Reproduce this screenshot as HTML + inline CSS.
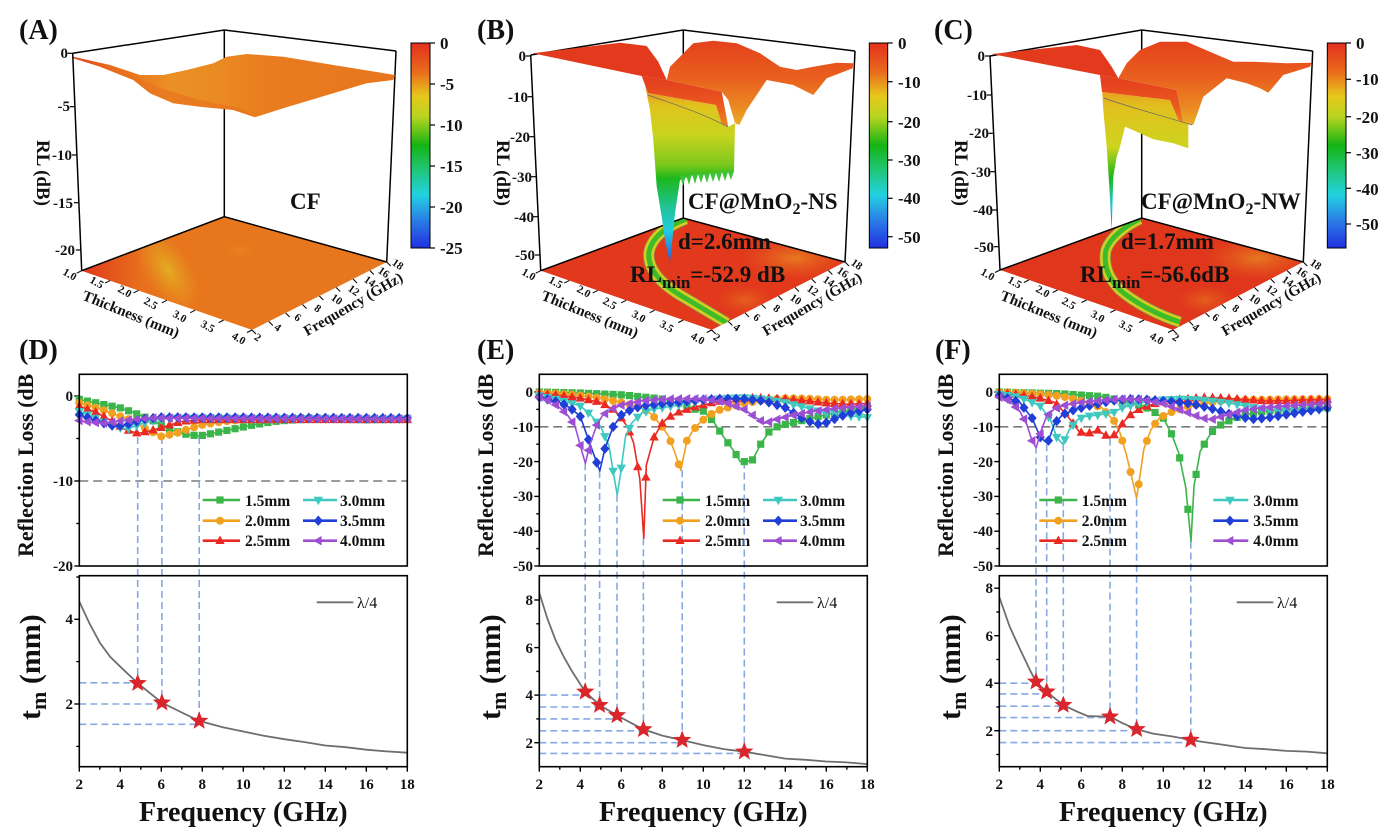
<!DOCTYPE html>
<html><head><meta charset="utf-8">
<style>
html,body{margin:0;padding:0;background:#fff;width:1381px;height:829px;overflow:hidden;}
svg{display:block;}
text{font-family:"Liberation Serif","Times New Roman",serif;font-weight:bold;fill:#111;}
</style></head><body>
<svg id="s" width="1381" height="829" viewBox="0 0 1381 829" xmlns="http://www.w3.org/2000/svg">
<defs>
 <linearGradient id="cbar" x1="0" y1="0" x2="0" y2="1">
  <stop offset="0" stop-color="#e3301e"/>
  <stop offset="0.14" stop-color="#ea6a1c"/>
  <stop offset="0.26" stop-color="#e6c81c"/>
  <stop offset="0.36" stop-color="#b8d420"/>
  <stop offset="0.5" stop-color="#14b414"/>
  <stop offset="0.62" stop-color="#20c678"/>
  <stop offset="0.74" stop-color="#22d2e0"/>
  <stop offset="0.87" stop-color="#2a7ae6"/>
  <stop offset="1" stop-color="#2030e0"/>
 </linearGradient>
 <linearGradient id="surfA" gradientUnits="userSpaceOnUse" x1="73" y1="0" x2="395" y2="0">
  <stop offset="0" stop-color="#e2401c"/><stop offset="0.1" stop-color="#e8661e"/>
  <stop offset="0.3" stop-color="#eb9024"/><stop offset="0.45" stop-color="#ea8a22"/>
  <stop offset="0.6" stop-color="#e97c1f"/><stop offset="1" stop-color="#e8761e"/>
 </linearGradient>
 <linearGradient id="floorA" gradientUnits="userSpaceOnUse" x1="82" y1="0" x2="200" y2="0">
  <stop offset="0" stop-color="#e0381c"/><stop offset="0.5" stop-color="#e8701d"/>
  <stop offset="1" stop-color="#e8761c"/>
 </linearGradient>
 <radialGradient id="yel" cx="0.5" cy="0.5" r="0.5">
  <stop offset="0" stop-color="#e2b020" stop-opacity="0.95"/>
  <stop offset="0.6" stop-color="#e59a20" stop-opacity="0.5"/>
  <stop offset="1" stop-color="#e8901e" stop-opacity="0"/>
 </radialGradient>
 <radialGradient id="org" cx="0.5" cy="0.5" r="0.5">
  <stop offset="0" stop-color="#e8921f" stop-opacity="0.9"/>
  <stop offset="1" stop-color="#e66a1e" stop-opacity="0"/>
 </radialGradient>
 <linearGradient id="wallB" gradientUnits="userSpaceOnUse" x1="0" y1="92" x2="0" y2="265">
  <stop offset="0" stop-color="#e89a22"/><stop offset="0.08" stop-color="#e0c41e"/>
  <stop offset="0.25" stop-color="#c8d41e"/><stop offset="0.42" stop-color="#7cc81c"/>
  <stop offset="0.5" stop-color="#1cb81c"/><stop offset="0.68" stop-color="#20c4a0"/>
  <stop offset="0.8" stop-color="#22cce0"/><stop offset="1" stop-color="#2050e0"/>
 </linearGradient>
 <linearGradient id="wallC" gradientUnits="userSpaceOnUse" x1="0" y1="92" x2="0" y2="230">
  <stop offset="0" stop-color="#e8a020"/><stop offset="0.1" stop-color="#e2c01e"/>
  <stop offset="0.4" stop-color="#cdd41e"/><stop offset="0.55" stop-color="#50c01c"/>
  <stop offset="0.62" stop-color="#1cb81c"/><stop offset="0.82" stop-color="#22c8d8"/>
  <stop offset="1" stop-color="#2060e0"/>
 </linearGradient>
 <linearGradient id="lip" gradientUnits="userSpaceOnUse" x1="0" y1="76" x2="0" y2="127">
  <stop offset="0" stop-color="#e33c1e"/><stop offset="0.6" stop-color="#ea5a1e"/><stop offset="1" stop-color="#ec8a22"/>
 </linearGradient>
 <linearGradient id="hump" gradientUnits="userSpaceOnUse" x1="0" y1="40" x2="0" y2="125">
  <stop offset="0" stop-color="#e4401c"/><stop offset="0.45" stop-color="#e9601e"/>
  <stop offset="0.8" stop-color="#eb8a22"/><stop offset="1" stop-color="#e8b024"/>
 </linearGradient>
 <clipPath id="clA"><polygon points="82,271 224,217 387,262 252,330"/></clipPath>
 <clipPath id="clB"><polygon points="540.7,270.7 683.3,218 845,262 711.7,330"/></clipPath>
 <clipPath id="clC"><polygon points="1000,270 1141.7,218 1303.3,262 1173,330"/></clipPath>
</defs>
<rect width="1381" height="829" fill="#fff"/>

<!-- ============ PANEL A ============ -->
<g clip-path="url(#clA)">
<polygon points="82,271 224,217 387,262 252,330" fill="url(#floorA)"/>
<ellipse cx="168" cy="270" rx="24" ry="48" transform="rotate(-31 168 270)" fill="url(#yel)"/>
<ellipse cx="240" cy="250" rx="30" ry="14" fill="url(#org)" opacity="0.5"/>
</g>
<g stroke="#000" stroke-width="1.5" fill="none">
 <polyline points="72.7,53.3 224.3,30 396,51"/>
 <line x1="224.3" y1="30" x2="224.3" y2="216.7"/>
 <line x1="396" y1="51" x2="386.7" y2="262"/>
 <polyline points="81.7,270.7 224.3,216.7 386.7,262"/>
</g>
<polygon fill="url(#surfA)" points="73.3,56.7 110,65 140,75 163.3,75 186.7,70 213.3,63.3 226.7,56.7 246.7,54 283.3,56.7 333.3,65 395,75 393.3,80 366.7,83.3 333.3,93.3 283.3,108.3 255,117.3 233.3,110 200,106.7 173.3,103.3 150,93.3 133.3,80 100,66.7 73.3,58.3"/>
<polygon fill="#e8701e" opacity="0.6" points="100,66.7 133.3,80 150,93.3 173.3,103.3 200,106.7 233.3,110 255,117.3 240,108 200,100 160,88 130,75"/>
<line x1="72.7" y1="53.3" x2="81.7" y2="270.7" stroke="#000" stroke-width="1.5"/>
<rect x="411" y="43" width="19" height="205" fill="url(#cbar)" stroke="#000" stroke-width="1"/>
<g font-size="17">
 <text x="440" y="49">0</text><text x="440" y="90">-5</text><text x="440" y="131">-10</text>
 <text x="440" y="172">-15</text><text x="440" y="213">-20</text><text x="440" y="254">-25</text>
</g>
<g font-size="15" text-anchor="end">
 <text x="68" y="58">0</text><text x="70" y="111">-5</text><text x="72" y="160">-10</text>
 <text x="73" y="208">-15</text><text x="75" y="255">-20</text>
</g>
<text x="19" y="39" font-size="28">(A)</text>
<text transform="translate(37,140) rotate(90)" font-size="19">RL (dB)</text>
<text x="290" y="209" font-size="23">CF</text>

<!-- ============ PANEL B ============ -->
<g clip-path="url(#clB)">
<polygon points="540.7,270.7 683.3,218 845,262 711.7,330" fill="#e2381c"/>
<ellipse cx="795" cy="258" rx="55" ry="22" fill="url(#org)" opacity="0.8"/>
<ellipse cx="745" cy="300" rx="30" ry="15" fill="url(#org)" opacity="0.5"/>
<path d="M686,219 C668,226 652,236 649,252 C647,268 660,284 685,298 C700,307 715,316 727,323" fill="none" stroke="#8a8a50" stroke-width="11.5"/>
<path d="M686,219 C668,226 652,236 649,252 C647,268 660,284 685,298 C700,307 715,316 727,323" fill="none" stroke="#d6cc22" stroke-width="10"/>
<path d="M686,219 C668,226 652,236 649,252 C647,268 660,284 685,298 C700,307 715,316 727,323" fill="none" stroke="#3cbc28" stroke-width="5"/>
</g>
<g stroke="#000" stroke-width="1.5" fill="none">
 <polyline points="530.7,55 683.3,30 855,51"/>
 <line x1="683.3" y1="30" x2="683.3" y2="218"/>
 <line x1="855" y1="51" x2="845" y2="262"/>
 <polyline points="540.7,270.7 683.3,218 845,262"/>
</g>
<polygon fill="#e33a1e" points="532.7,53.3 620,42.7 646.7,46 658.3,61.7 666.7,80 641.7,76"/>
<polygon fill="url(#wallB)" points="648,93 716,105 721.7,124 728.3,126.7 735,123.3 734,171.7 713.3,173.3 693.3,175 680,180 675,213.3 670,263.3 665,240 661.7,216.7 656.7,186.7 653.3,140 650,110 645,85"/>
<path fill="#3ec23a" d="M680,176 L683,186 L686,175 L689,185 L692,174 L695,184 L698,174 L701,183 L704,174 L707,183 L710,173 L713,182 L716,173 L719,182 L722,172 L725,181 L728,172 L731,180 L734,171 Z"/>
<polygon fill="url(#lip)" points="641.7,76 666.7,80 721.7,91.7 728.3,126.7 721.7,124 716,105 648,93"/>
<polygon fill="url(#hump)" points="666.7,80 670,66.7 680,56.7 693.3,43.3 713.3,40.7 736.7,43.3 760,53.3 780,66.7 796.7,70 813.3,66.7 836.7,62.7 853.3,63.3 852.7,68.3 826.7,78.3 813.3,95 806.7,91.7 793.3,85 766.7,80 746.7,110 739.3,125 735,123.3 728.3,100 721.7,91.7"/>
<path d="M648,95 C670,103 700,112 728,127" fill="none" stroke="#666" stroke-width="0.7"/>
<line x1="530.7" y1="55" x2="540.7" y2="270.7" stroke="#000" stroke-width="1.5"/>
<rect x="869.3" y="43" width="18.4" height="205" fill="url(#cbar)" stroke="#000" stroke-width="1"/>
<g font-size="17">
 <text x="898" y="49">0</text><text x="898" y="88">-10</text><text x="898" y="128">-20</text>
 <text x="898" y="166">-30</text><text x="898" y="204">-40</text><text x="898" y="243">-50</text>
</g>
<g font-size="15" text-anchor="end">
 <text x="526" y="61">0</text><text x="528" y="102">-10</text><text x="530" y="142">-20</text>
 <text x="532" y="182">-30</text><text x="534" y="222">-40</text><text x="535" y="260">-50</text>
</g>
<text x="477" y="39" font-size="28">(B)</text>
<text transform="translate(497,140) rotate(90)" font-size="19">RL (dB)</text>
<text x="688" y="209" font-size="23">CF@MnO<tspan font-size="16" dy="5">2</tspan><tspan dy="-5">-NS</tspan></text>
<text x="678" y="249" font-size="23">d=2.6mm</text>
<text x="630" y="282" font-size="23">RL<tspan font-size="17" dy="6">min</tspan><tspan dy="-6">=-52.9 dB</tspan></text>

<!-- ============ PANEL C ============ -->
<g clip-path="url(#clC)">
<polygon points="1000,270 1141.7,218 1303.3,262 1173,330" fill="#e0361c"/>
<ellipse cx="1258" cy="258" rx="55" ry="22" fill="url(#org)" opacity="0.8"/>
<ellipse cx="1205" cy="300" rx="30" ry="15" fill="url(#org)" opacity="0.5"/>
<path d="M1140,219 C1125,226 1110,238 1106,250 C1103,265 1108,278 1120,290 C1135,303 1160,316 1180,322" fill="none" stroke="#8a8a50" stroke-width="11.5"/>
<path d="M1140,219 C1125,226 1110,238 1106,250 C1103,265 1108,278 1120,290 C1135,303 1160,316 1180,322" fill="none" stroke="#d6cc22" stroke-width="10"/>
<path d="M1140,219 C1125,226 1110,238 1106,250 C1103,265 1108,278 1120,290 C1135,303 1160,316 1180,322" fill="none" stroke="#3cbc28" stroke-width="5"/>
</g>
<g stroke="#000" stroke-width="1.5" fill="none">
 <polyline points="990,56 1141.7,30 1312.7,51"/>
 <line x1="1141.7" y1="30" x2="1141.7" y2="218"/>
 <line x1="1312.7" y1="51" x2="1303.3" y2="262"/>
 <polyline points="1000,270 1141.7,218 1303.3,262"/>
</g>
<polygon fill="#e33a1e" points="991.7,54 1076.7,45 1100,50 1111.7,66.7 1118.3,78.3 1100,75"/>
<polygon fill="url(#wallC)" points="1102,92 1170,100 1178.3,120 1183.3,122.7 1188.3,124 1188.3,148.3 1173.3,143.3 1153.3,139.3 1136.7,131.7 1125,126.7 1120,146.7 1116.7,156.7 1113.3,176.7 1111.7,230 1109.3,186.7 1106.7,146.7 1103.3,110 1101.7,83.3"/>
<polygon fill="url(#lip)" points="1100,75 1118.3,78.3 1176.7,90 1183.3,122.7 1178.3,120 1170,100 1102,92"/>
<polygon fill="url(#hump)" points="1118.3,78.3 1126.7,63.3 1140,50 1160,41.7 1186.7,41.7 1213.3,53.3 1233.3,61.7 1253.3,61.7 1286.7,63.3 1311.7,62.7 1310,66.7 1283.3,75 1268.3,92.7 1260,88.3 1246.7,83.3 1226.7,78.3 1203.3,96.7 1193.3,125 1188.3,124 1183.3,122.7 1176.7,90"/>
<path d="M1104,98 C1125,106 1160,115 1192,125" fill="none" stroke="#666" stroke-width="0.7"/>
<line x1="990" y1="56" x2="1000" y2="270" stroke="#000" stroke-width="1.5"/>
<rect x="1327.3" y="43" width="18.7" height="205" fill="url(#cbar)" stroke="#000" stroke-width="1"/>
<g font-size="17">
 <text x="1356" y="49">0</text><text x="1356" y="85">-10</text><text x="1356" y="123">-20</text>
 <text x="1356" y="159">-30</text><text x="1356" y="195">-40</text><text x="1356" y="230">-50</text>
</g>
<g font-size="15" text-anchor="end">
 <text x="985" y="61">0</text><text x="987" y="100">-10</text><text x="989" y="138">-20</text>
 <text x="991" y="177">-30</text><text x="993" y="215">-40</text><text x="994" y="252">-50</text>
</g>
<text x="934" y="39" font-size="28">(C)</text>
<text transform="translate(955,140) rotate(90)" font-size="19">RL (dB)</text>
<text x="1141" y="209" font-size="23">CF@MnO<tspan font-size="16" dy="5">2</tspan><tspan dy="-5">-NW</tspan></text>
<text x="1121" y="249" font-size="23">d=1.7mm</text>
<text x="1080" y="282" font-size="23">RL<tspan font-size="17" dy="6">min</tspan><tspan dy="-6">=-56.6dB</tspan></text>

<!-- 3D floor axis labels -->
<g font-size="11">
 <text transform="translate(70,274) rotate(30)" text-anchor="middle" dy="4">1.0</text>
 <text transform="translate(97,282) rotate(30)" text-anchor="middle" dy="4">1.5</text>
 <text transform="translate(125,291) rotate(30)" text-anchor="middle" dy="4">2.0</text>
 <text transform="translate(151,303) rotate(30)" text-anchor="middle" dy="4">2.5</text>
 <text transform="translate(180,316) rotate(30)" text-anchor="middle" dy="4">3.0</text>
 <text transform="translate(208,326) rotate(30)" text-anchor="middle" dy="4">3.5</text>
 <text transform="translate(239,338) rotate(30)" text-anchor="middle" dy="4">4.0</text>
 <text transform="translate(258,337) rotate(35)" text-anchor="middle" dy="4">2</text>
 <text transform="translate(278,327) rotate(35)" text-anchor="middle" dy="4">4</text>
 <text transform="translate(298,317) rotate(35)" text-anchor="middle" dy="4">6</text>
 <text transform="translate(318,308) rotate(35)" text-anchor="middle" dy="4">8</text>
 <text transform="translate(337,299) rotate(35)" text-anchor="middle" dy="4">10</text>
 <text transform="translate(354,290) rotate(35)" text-anchor="middle" dy="4">12</text>
 <text transform="translate(370,281) rotate(35)" text-anchor="middle" dy="4">14</text>
 <text transform="translate(384,272) rotate(35)" text-anchor="middle" dy="4">16</text>
 <text transform="translate(398,264) rotate(35)" text-anchor="middle" dy="4">18</text>
 <text transform="translate(131,314) rotate(22)" text-anchor="middle" dy="5" font-size="15">Thickness (mm)</text>
 <text transform="translate(353,304) rotate(-30)" text-anchor="middle" dy="5" font-size="15">Frequency (GHz)</text>
</g>
<g transform="translate(459,0)" font-size="11">
 <text transform="translate(70,274) rotate(30)" text-anchor="middle" dy="4">1.0</text>
 <text transform="translate(97,282) rotate(30)" text-anchor="middle" dy="4">1.5</text>
 <text transform="translate(125,291) rotate(30)" text-anchor="middle" dy="4">2.0</text>
 <text transform="translate(151,303) rotate(30)" text-anchor="middle" dy="4">2.5</text>
 <text transform="translate(180,316) rotate(30)" text-anchor="middle" dy="4">3.0</text>
 <text transform="translate(208,326) rotate(30)" text-anchor="middle" dy="4">3.5</text>
 <text transform="translate(239,338) rotate(30)" text-anchor="middle" dy="4">4.0</text>
 <text transform="translate(258,337) rotate(35)" text-anchor="middle" dy="4">2</text>
 <text transform="translate(278,327) rotate(35)" text-anchor="middle" dy="4">4</text>
 <text transform="translate(298,317) rotate(35)" text-anchor="middle" dy="4">6</text>
 <text transform="translate(318,308) rotate(35)" text-anchor="middle" dy="4">8</text>
 <text transform="translate(337,299) rotate(35)" text-anchor="middle" dy="4">10</text>
 <text transform="translate(354,290) rotate(35)" text-anchor="middle" dy="4">12</text>
 <text transform="translate(370,281) rotate(35)" text-anchor="middle" dy="4">14</text>
 <text transform="translate(384,272) rotate(35)" text-anchor="middle" dy="4">16</text>
 <text transform="translate(398,264) rotate(35)" text-anchor="middle" dy="4">18</text>
 <text transform="translate(131,314) rotate(22)" text-anchor="middle" dy="5" font-size="15">Thickness (mm)</text>
 <text transform="translate(353,304) rotate(-30)" text-anchor="middle" dy="5" font-size="15">Frequency (GHz)</text>
</g>
<g transform="translate(918,0)" font-size="11">
 <text transform="translate(70,274) rotate(30)" text-anchor="middle" dy="4">1.0</text>
 <text transform="translate(97,282) rotate(30)" text-anchor="middle" dy="4">1.5</text>
 <text transform="translate(125,291) rotate(30)" text-anchor="middle" dy="4">2.0</text>
 <text transform="translate(151,303) rotate(30)" text-anchor="middle" dy="4">2.5</text>
 <text transform="translate(180,316) rotate(30)" text-anchor="middle" dy="4">3.0</text>
 <text transform="translate(208,326) rotate(30)" text-anchor="middle" dy="4">3.5</text>
 <text transform="translate(239,338) rotate(30)" text-anchor="middle" dy="4">4.0</text>
 <text transform="translate(258,337) rotate(35)" text-anchor="middle" dy="4">2</text>
 <text transform="translate(278,327) rotate(35)" text-anchor="middle" dy="4">4</text>
 <text transform="translate(298,317) rotate(35)" text-anchor="middle" dy="4">6</text>
 <text transform="translate(318,308) rotate(35)" text-anchor="middle" dy="4">8</text>
 <text transform="translate(337,299) rotate(35)" text-anchor="middle" dy="4">10</text>
 <text transform="translate(354,290) rotate(35)" text-anchor="middle" dy="4">12</text>
 <text transform="translate(370,281) rotate(35)" text-anchor="middle" dy="4">14</text>
 <text transform="translate(384,272) rotate(35)" text-anchor="middle" dy="4">16</text>
 <text transform="translate(398,264) rotate(35)" text-anchor="middle" dy="4">18</text>
 <text transform="translate(131,314) rotate(22)" text-anchor="middle" dy="5" font-size="15">Thickness (mm)</text>
 <text transform="translate(353,304) rotate(-30)" text-anchor="middle" dy="5" font-size="15">Frequency (GHz)</text>
</g>

<!-- ============ PANELS D E F static text ============ -->
<text x="19" y="359" font-size="28">(D)</text>
<text x="477" y="359" font-size="28">(E)</text>
<text x="935" y="359" font-size="28">(F)</text>

<g font-size="22">
 <text transform="translate(33,557) rotate(-90)">Reflection Loss (dB</text>
 <text transform="translate(493,557) rotate(-90)">Reflection Loss (dB</text>
 <text transform="translate(953,557) rotate(-90)">Reflection Loss (dB</text>
</g>
<g font-size="30">
 <text transform="translate(40,720) rotate(-90)">t<tspan font-size="22" dy="6">m</tspan><tspan dy="-6"> (mm)</tspan></text>
 <text transform="translate(500,720) rotate(-90)">t<tspan font-size="22" dy="6">m</tspan><tspan dy="-6"> (mm)</tspan></text>
 <text transform="translate(960,720) rotate(-90)">t<tspan font-size="22" dy="6">m</tspan><tspan dy="-6"> (mm)</tspan></text>
</g>
<g font-size="28" text-anchor="middle">
 <text x="243.3" y="821">Frequency (GHz)</text>
 <text x="703.3" y="821">Frequency (GHz)</text>
 <text x="1163.3" y="821">Frequency (GHz)</text>
</g>
<g font-size="15" text-anchor="end">
 <text x="73" y="401">0</text><text x="73" y="486">-10</text><text x="73" y="571">-20</text>
 <text x="73" y="709">2</text><text x="73" y="624">4</text>
 <text x="533" y="397">0</text><text x="533" y="432">-10</text><text x="533" y="467">-20</text>
 <text x="533" y="501">-30</text><text x="533" y="536">-40</text><text x="533" y="571">-50</text>
 <text x="533" y="748">2</text><text x="533" y="700">4</text><text x="533" y="653">6</text><text x="533" y="605">8</text>
 <text x="993" y="397">0</text><text x="993" y="432">-10</text><text x="993" y="467">-20</text>
 <text x="993" y="501">-30</text><text x="993" y="536">-40</text><text x="993" y="571">-50</text>
 <text x="993" y="736">2</text><text x="993" y="688">4</text><text x="993" y="641">6</text><text x="993" y="593">8</text>
</g>
<g font-size="15" text-anchor="middle">
 <text x="79.3" y="789">2</text><text x="120.3" y="789">4</text><text x="161.3" y="789">6</text><text x="202.3" y="789">8</text><text x="243.3" y="789">10</text><text x="284.3" y="789">12</text><text x="325.3" y="789">14</text><text x="366.3" y="789">16</text><text x="407.3" y="789">18</text>
 <text x="539.3" y="789">2</text><text x="580.3" y="789">4</text><text x="621.3" y="789">6</text><text x="662.3" y="789">8</text><text x="703.3" y="789">10</text><text x="744.3" y="789">12</text><text x="785.3" y="789">14</text><text x="826.3" y="789">16</text><text x="867.3" y="789">18</text>
 <text x="999.3" y="789">2</text><text x="1040.3" y="789">4</text><text x="1081.3" y="789">6</text><text x="1122.3" y="789">8</text><text x="1163.3" y="789">10</text><text x="1204.3" y="789">12</text><text x="1245.3" y="789">14</text><text x="1286.3" y="789">16</text><text x="1327.3" y="789">18</text>
</g>
<g font-size="15.5">
 <text x="245" y="506">1.5mm</text><text x="245" y="526">2.0mm</text><text x="245" y="546">2.5mm</text>
 <text x="340" y="506">3.0mm</text><text x="340" y="526">3.5mm</text><text x="340" y="546">4.0mm</text>
 <text x="705" y="506">1.5mm</text><text x="705" y="526">2.0mm</text><text x="705" y="546">2.5mm</text>
 <text x="800" y="506">3.0mm</text><text x="800" y="526">3.5mm</text><text x="800" y="546">4.0mm</text>
 <text x="1081.7" y="506">1.5mm</text><text x="1081.7" y="526">2.0mm</text><text x="1081.7" y="546">2.5mm</text>
 <text x="1253.3" y="506">3.0mm</text><text x="1253.3" y="526">3.5mm</text><text x="1253.3" y="546">4.0mm</text>
</g>
<g font-size="16">
 <text x="357" y="608" style="font-weight:normal">λ/4</text>
 <text x="817" y="608" style="font-weight:normal">λ/4</text>
 <text x="1277" y="608" style="font-weight:normal">λ/4</text>
</g>
<g id="dyn"></g>
</svg>
<script>
(function(){
const NS='http://www.w3.org/2000/svg';
const root=document.getElementById('dyn');
function E(tag,a,p){const e=document.createElementNS(NS,tag);for(const k in a)e.setAttribute(k,a[k]);(p||root).appendChild(e);return e;}
function interp(pts,f){for(let i=0;i<pts.length-1;i++){if(f>=pts[i][0]&&f<=pts[i+1][0]){const t=(f-pts[i][0])/((pts[i+1][0]-pts[i][0])||1);return pts[i][1]+t*(pts[i+1][1]-pts[i][1]);}}return f<pts[0][0]?pts[0][1]:pts[pts.length-1][1];}
const COL={g:'#3bb54a',o:'#f2a01f',r:'#ea2a22',c:'#3ec8c0',b:'#1f3fd6',p:'#9d4fd3'};
const SH={g:'sq',o:'ci',r:'up',c:'dn',b:'di',p:'lt'};
function marker(k,x,y,g){const col=COL[k],s=SH[k];
 if(s==='sq')E('rect',{x:(x-3.6).toFixed(1),y:(y-3.6).toFixed(1),width:7.2,height:7.2,fill:col},g);
 else if(s==='ci')E('circle',{cx:x.toFixed(1),cy:y.toFixed(1),r:4,fill:col},g);
 else{let p;
  if(s==='up')p=[[0,-5.2],[4.7,3.3],[-4.7,3.3]];
  else if(s==='dn')p=[[0,5.2],[4.7,-3.3],[-4.7,-3.3]];
  else if(s==='di')p=[[0,-5.2],[4.6,0],[0,5.2],[-4.6,0]];
  else p=[[-5.2,0],[3.3,-4.7],[3.3,4.7]];
  E('polygon',{points:p.map(q=>(x+q[0]).toFixed(1)+','+(y+q[1]).toFixed(1)).join(' '),fill:col},g);}
}
function star(cx,cy,g){let s=[];for(let i=0;i<10;i++){const a=-Math.PI/2+i*Math.PI/5,rr=i%2?4.1:9.6;s.push((cx+rr*Math.cos(a)).toFixed(1)+','+(cy+rr*Math.sin(a)).toFixed(1));}E('polygon',{points:s.join(' '),fill:'#d9252b'},g);}
const BL='#86a9e3';
function chart(P){
 const g=E('g',{});
 const X=f=>P.x0+(f-2)*(P.x1-P.x0)/16;
 const YT=v=>P.ty0-v*P.tk;
 const YB=t=>P.by2-(t-2)*P.bk;
 const st={stroke:'#000','stroke-width':1.4};
 function ln(x1,y1,x2,y2,a){const o={x1:x1.toFixed(1),y1:y1.toFixed(1),x2:x2.toFixed(1),y2:y2.toFixed(1)};for(const k in a)o[k]=a[k];return E('line',o,g);}
 P.tMaj.forEach(v=>ln(P.x0-5,YT(v),P.x0,YT(v),st));
 P.tMin.forEach(v=>ln(P.x0-3,YT(v),P.x0,YT(v),st));
 P.bMaj.forEach(v=>ln(P.x0-5,YB(v),P.x0,YB(v),st));
 P.bMin.forEach(v=>ln(P.x0-3,YB(v),P.x0,YB(v),st));
 for(let f=2;f<=18;f++){ln(X(f),P.bB,X(f),P.bB+(f%2==0?5:3),st);}
 ln(P.x0,YT(-10),P.x1,YT(-10),{stroke:'#7a7a7a','stroke-width':1.6,'stroke-dasharray':'9,5'});
 const ds={stroke:BL,'stroke-width':1.6,'stroke-dasharray':'7,4'};
 P.marks.forEach(m=>{ln(X(m[0]),YT(m[1]),X(m[0]),YB(m[2]),ds);ln(P.x0,YB(m[3]),X(m[0]),YB(m[3]),ds);});
 ['g','o','r','c','b','p'].forEach(k=>{
  const pts=P.cv[k];let fs=[];for(let i=0;i<=40;i++)fs.push(2+i*0.4);
  let all=fs.concat(pts.map(p=>p[0])).sort((a,b)=>a-b);
  let d='';all.forEach((f,i)=>{d+=(i?'L':'M')+X(f).toFixed(1)+','+YT(interp(pts,f)).toFixed(1);});
  E('path',{d:d,fill:'none',stroke:COL[k],'stroke-width':1.6,'stroke-linejoin':'round'},g);
  fs.forEach(f=>marker(k,X(f),YT(interp(pts,f)),g));
 });
 let d='';P.lam.forEach((p,i)=>{d+=(i?'L':'M')+X(p[0]).toFixed(1)+','+YB(p[1]).toFixed(1);});
 E('path',{d:d,fill:'none',stroke:'#6e6e6e','stroke-width':1.8},g);
 P.marks.forEach(m=>star(X(m[0]),YB(m[2]),g));
 E('rect',{x:P.x0,y:P.tT,width:P.x1-P.x0,height:P.tB-P.tT,fill:'none',stroke:'#000','stroke-width':1.6},g);
 E('rect',{x:P.x0,y:P.bT,width:P.x1-P.x0,height:P.bB-P.bT,fill:'none',stroke:'#000','stroke-width':1.6},g);
 const rows=[500,520.7,540.7];
 [['g','o','r'],['c','b','p']].forEach((col,ci)=>{col.forEach((k,ri)=>{const L=P.leg[ci];
  ln(L[0],rows[ri],L[1],rows[ri],{stroke:COL[k],'stroke-width':2.6});marker(k,L[2],rows[ri],g);});});
 ln(P.lamLeg,602.3,P.lamLeg+36.6,602.3,{stroke:'#6e6e6e','stroke-width':1.8});
}
function floorTicks(L,F,R){
 const g=E('g',{stroke:'#000','stroke-width':1});
 for(let i=0;i<=6;i++){const t=i/6;const x=L[0]+(F[0]-L[0])*t,y=L[1]+(F[1]-L[1])*t;E('line',{x1:x,y1:y,x2:x-5,y2:y+2.5},g);}
 for(let i=0;i<=8;i++){const t=i/8;const x=F[0]+(R[0]-F[0])*t,y=F[1]+(R[1]-F[1])*t;E('line',{x1:x,y1:y,x2:x+4,y2:y+4},g);}
}
floorTicks([81.7,270.7],[252,330],[386.7,262]);
floorTicks([540.7,270.7],[711.7,330],[845,262]);
floorTicks([1000,270],[1173,330],[1303.3,262]);
function axTicks(x0,y0,x1,y1,ys){const g=E('g',{stroke:'#000','stroke-width':1.2});ys.forEach(y=>{const x=x0+(y-y0)*(x1-x0)/(y1-y0);E('line',{x1:x-5,y1:y,x2:x,y2:y},g);});}
axTicks(72.7,53.3,81.7,270.7,[53.3,106.7,155,202.7,250]);
axTicks(530.7,55,540.7,270.7,[56,96.7,136.7,176.7,216.7,255]);
axTicks(990,56,1000,270,[56,95,133.3,171.7,210,246.7]);
function cbTicks(x,ys){const g=E('g',{stroke:'#000','stroke-width':1.2});ys.forEach(y=>E('line',{x1:x,y1:y,x2:x+5,y2:y},g));}
cbTicks(430,[43,84,125,166,207,248]);
cbTicks(887.7,[43,81.7,121.7,160,198.3,236.7]);
cbTicks(1346,[43,79.3,116.7,152.7,188.3,224]);

chart({x0:79.3,x1:407.3,tT:374.3,tB:566,ty0:396,tk:8.5,tMaj:[0,-10,-20],tMin:[-5,-15],
 bT:575.7,bB:766.7,by2:704,bk:42.35,bMaj:[2,4],bMin:[1,3,5],
 marks:[[4.85,-4.82,2.49,2.5],[6.03,-4.82,2.03,2.0],[7.85,-4.82,1.6,1.52]],
 lam:[[2,4.42],[2.5,3.9],[3,3.45],[3.5,3.12],[4,2.88],[4.85,2.49],[6.03,2.03],[7,1.8],[7.85,1.6],[9,1.45],[10,1.35],[11,1.25],[12,1.17],[13,1.1],[14,1.02],[15,0.98],[16,0.92],[17,0.88],[18,0.85]],
 leg:[[202.7,240,220],[303,337,318.3]],lamLeg:316.7,
 cv:{
 g:[[2,-0.4],[3,-0.9],[4,-1.4],[4.7,-2],[5.5,-2.8],[6.5,-4.0],[7.2,-4.5],[7.85,-4.7],[8.5,-4.4],[9.5,-3.9],[10.5,-3.4],[11.5,-3.0],[12.5,-2.8],[14,-2.7],[16,-2.8],[18,-2.7]],
 o:[[2,-0.8],[3,-1.5],[3.8,-2.2],[4.5,-2.8],[5.2,-3.8],[6,-4.75],[6.7,-4.4],[7.3,-3.9],[8,-3.4],[9,-3.0],[10,-2.8],[13,-2.7],[18,-2.75]],
 r:[[2,-1.2],[2.8,-1.9],[3.5,-2.8],[4.2,-3.9],[4.85,-4.4],[5.5,-4.1],[6.3,-3.5],[7,-3.0],[8,-2.8],[18,-2.8]],
 c:[[2,-1.8],[2.5,-2.3],[3,-2.8],[3.6,-3.5],[4.3,-3.9],[4.9,-3.4],[5.5,-2.9],[6.5,-2.6],[18,-2.7]],
 b:[[2,-2.2],[2.7,-2.8],[3.3,-3.3],[3.8,-3.6],[4.4,-3.3],[5.2,-2.7],[6,-2.5],[18,-2.6]],
 p:[[2,-2.9],[2.6,-3.1],[3.2,-3.2],[3.8,-3.0],[4.5,-2.8],[5.5,-2.6],[18,-2.7]]}});

chart({x0:539.3,x1:867.3,tT:374.3,tB:566,ty0:392,tk:3.48,tMaj:[0,-10,-20,-30,-40,-50],tMin:[-5,-15,-25,-35,-45],
 bT:575.7,bB:766.7,by2:742.7,bk:23.78,bMaj:[2,4,6,8],bMin:[3,5,7],
 marks:[[4.24,-20.5,4.14,4.0],[4.94,-22.7,3.58,3.5],[5.79,-29.5,3.15,3.0],[7.08,-42,2.56,2.5],[8.97,-22.5,2.11,2.0],[12.0,-20,1.62,1.55]],
 lam:[[2,8.3],[2.4,7.2],[2.8,6.3],[3.2,5.6],[3.6,5.0],[4.24,4.14],[4.94,3.58],[5.79,3.15],[6.5,2.82],[7.08,2.56],[8,2.3],[8.97,2.11],[10,1.9],[11,1.73],[12,1.62],[13,1.48],[14,1.33],[15,1.28],[16,1.21],[17,1.17],[18,1.1]],
 leg:[[662.7,700,680],[763,797,778.3]],lamLeg:776.7,
 cv:{
 g:[[2,0],[4,-0.3],[6,-0.8],[8,-2],[9,-3.5],[9.5,-4.8],[10,-5.5],[10.5,-8.5],[11,-13],[11.5,-17],[11.8,-20],[12.1,-20],[12.4,-19.5],[12.8,-15],[13.2,-11.5],[13.6,-10],[14,-9.3],[14.6,-8.5],[15.5,-7.2],[16.5,-6],[17.3,-5],[18,-4.3]],
 o:[[2,-0.2],[3,-0.5],[4,-1],[5,-1.8],[6,-3],[7,-4.5],[7.5,-6.5],[8,-10],[8.3,-12.6],[8.6,-17.2],[8.9,-22.5],[9.2,-14],[9.5,-11],[9.8,-9],[10.2,-7],[10.7,-5.3],[11.3,-4.3],[12,-3.3],[13,-2.3],[14,-1.8],[15,-1.9],[16,-2.2],[17,-2.2],[18,-2.0]],
 r:[[2,-0.5],[3,-1],[4,-1.8],[5,-3],[5.6,-5],[6,-7.5],[6.3,-10],[6.6,-14.6],[6.9,-25],[7.1,-42],[7.22,-21],[7.6,-13],[7.93,-9.5],[8.25,-7.5],[8.8,-5.8],[9.5,-4.5],[10.5,-3],[11.5,-2],[12.5,-1.7],[14,-2],[15,-2.5],[16,-3.2],[17,-3.5],[18,-3.3]],
 c:[[2,-1],[3,-2.3],[4,-4],[4.5,-6.5],[5,-10],[5.4,-15.5],[5.65,-24.5],[5.8,-29.5],[5.95,-24],[6.2,-13],[6.5,-9],[7,-6],[7.5,-5],[8,-4.5],[9,-3.5],[10,-2.5],[11,-1.8],[12,-1.6],[13,-2],[14,-3],[15,-4.5],[16,-6],[17,-6.8],[18,-7.3]],
 b:[[2,-1.5],[3,-3],[3.5,-4.5],[4,-7],[4.3,-12],[4.6,-17],[4.95,-22.7],[5.2,-16.3],[5.6,-10],[6,-6.6],[6.5,-5],[7,-4],[8,-3.3],[9,-2.8],[10,-2.2],[11,-1.9],[12,-2],[13,-2.6],[14,-4.5],[14.8,-7.5],[15.5,-9.3],[16,-8.8],[16.7,-7],[17.3,-5.8],[18,-5]],
 p:[[2,-1.5],[2.5,-2.5],[3,-4.5],[3.4,-6.8],[3.75,-10],[4.1,-17.5],[4.25,-20.5],[4.45,-15.5],[4.8,-9.5],[5.1,-6.6],[5.5,-5],[6,-3.8],[7,-2.6],[8,-2.1],[9,-1.9],[10,-2.0],[11,-2.8],[12,-5],[12.6,-7.5],[13,-9],[13.5,-8],[14.5,-6.5],[15.5,-5.5],[16.5,-4.7],[18,-4.0]]}});

chart({x0:999.3,x1:1327.3,tT:374.3,tB:566,ty0:392,tk:3.48,tMaj:[0,-10,-20,-30,-40,-50],tMin:[-5,-15,-25,-35,-45],
 bT:575.7,bB:766.7,by2:730.7,bk:23.75,bMaj:[2,4,6,8],bMin:[1,3,5,7],
 marks:[[3.79,-15.7,4.06,4.0],[4.31,-15,3.64,3.55],[5.12,-15,3.08,3.03],[7.4,-13.4,2.59,2.55],[8.7,-30.7,2.06,2.0],[11.34,-43,1.61,1.5]],
 lam:[[2,7.63],[2.5,6.4],[3,5.45],[3.5,4.55],[3.79,4.06],[4.31,3.64],[5.12,3.08],[5.8,2.8],[6.3,2.62],[7,2.6],[7.4,2.59],[8,2.32],[8.7,2.06],[9.5,1.88],[10.5,1.75],[11.34,1.61],[12,1.52],[13,1.4],[14,1.27],[15,1.22],[16,1.15],[17,1.12],[18,1.05]],
 leg:[[1039.3,1077.3,1058.3],[1213.3,1248.3,1230]],lamLeg:1236.7,
 cv:{
 g:[[2,0],[5,-0.5],[7,-1.3],[8,-2.5],[9,-4],[9.5,-5.5],[10,-7.5],[10.4,-12],[10.75,-17.5],[11.1,-27.5],[11.35,-43],[11.5,-27],[11.8,-17],[12.2,-13],[12.5,-10.5],[13,-8.8],[13.5,-7.5],[14,-6.5],[15,-5.5],[16,-5],[17,-4.7],[18,-4.5]],
 o:[[2,0],[4,-0.6],[5,-1.2],[6,-2.5],[7,-4.5],[7.6,-8.3],[7.9,-12],[8.2,-18],[8.7,-30.5],[9.05,-16.5],[9.4,-10.8],[9.8,-7.5],[10.3,-6],[11,-4.5],[12,-3.2],[13,-2.5],[14,-2.2],[15,-2.2],[16,-2.1],[18,-2]],
 r:[[2,-0.3],[3,-0.8],[4,-1.8],[4.7,-3],[5.2,-6],[5.6,-9],[5.9,-11.5],[6.3,-12],[6.8,-11],[7.2,-12.5],[7.4,-13],[7.7,-12],[8.1,-8.3],[8.5,-6],[9,-4.5],[9.5,-3.5],[10.5,-2.3],[12,-1.6],[13,-1.8],[14,-2.2],[15,-2.6],[16,-2.5],[17,-2.3],[18,-2.2]],
 c:[[2,-0.6],[3,-1.5],[4,-4],[4.5,-8],[4.8,-13],[5.1,-15],[5.4,-11],[5.8,-8],[6.2,-7],[7,-6.5],[7.6,-5.8],[8,-4.5],[9,-3],[10,-2.2],[11,-2],[12,-2.3],[13,-3],[14,-4],[15,-5],[16,-5.5],[17,-5.3],[18,-5]],
 b:[[2,-1],[3,-3],[3.6,-7.5],[4,-13],[4.35,-14.8],[4.7,-9],[5.1,-6.5],[5.7,-5],[6.5,-3.8],[7.5,-2.5],[8.5,-2],[9.5,-2.3],[10.5,-2.8],[11.5,-3.5],[12.5,-5],[13.5,-6.8],[14.3,-7.8],[15,-7.5],[16,-6.5],[17,-5.5],[18,-4.5]],
 p:[[2,-1.5],[2.5,-2.5],[3,-5.5],[3.35,-9.5],[3.6,-14],[3.8,-16],[4.05,-11],[4.3,-7],[4.7,-4.8],[5.2,-3.8],[6,-3],[7,-2.4],[8,-2.0],[9,-2.2],[10,-3.3],[11,-5.5],[11.8,-7.3],[12.3,-8],[13,-6.8],[14,-5.2],[15,-4.5],[16,-4],[18,-3.3]]}});
})();
</script>
</body></html>
